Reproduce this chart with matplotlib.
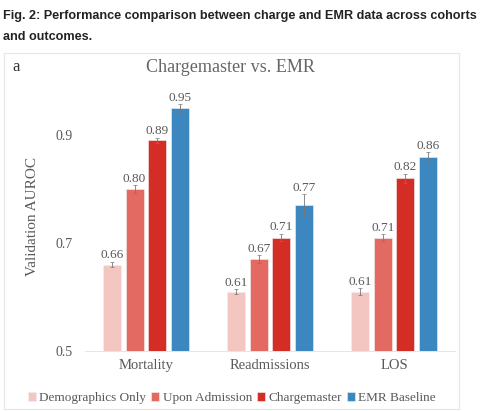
import matplotlib.pyplot as plt
from matplotlib.patches import Rectangle
import numpy as np

# data
outcomes = ['Mortality', 'Readmissions', 'LOS']
models = ['Demographics Only', 'Upon Admission', 'Chargemaster', 'EMR Baseline']
auroc = {
    'Demographics Only': [0.66, 0.61, 0.61],
    'Upon Admission': [0.80, 0.67, 0.71],
    'Chargemaster': [0.89, 0.71, 0.82],
    'EMR Baseline': [0.95, 0.77, 0.86],
}
err = {
    'Demographics Only': [0.005, 0.004, 0.006],
    'Upon Admission': [0.007, 0.007, 0.006],
    'Chargemaster': [0.005, 0.007, 0.008],
    'EMR Baseline': [0.007, 0.020, 0.008],
}
colors = ['#f4c6c2', '#e36a63', '#d42d25', '#3c87bf']

grey = '#595959'
serif = ['Liberation Serif', 'DejaVu Serif']

fig = plt.figure(figsize=(4.92, 4.11), dpi=100)

# caption
cap_font = ['Liberation Sans', 'DejaVu Sans']
fig.text(0.006, 1 - 16 / 411, 'Fig. 2: Performance comparison between charge and EMR data across cohorts',
         fontsize=9.1, fontweight='bold', family=cap_font,
         color='#222222', va='center', ha='left')
fig.text(0.006, 1 - 37 / 411, 'and outcomes.',
         fontsize=9.1, fontweight='bold', family=cap_font,
         color='#222222', va='center', ha='left')

# panel frame
fig.patches.append(Rectangle((4 / 492, 1 - 409 / 411), 455 / 492, 356 / 411,
                             transform=fig.transFigure, fill=False,
                             edgecolor='#e6e6e6', linewidth=0.8))

fig.text(12 / 492, 1 - 67 / 411, 'a', fontsize=12, family=serif, color='#333333',
         va='center', ha='left')
fig.text(230 / 492, 1 - 67 / 411, 'Chargemaster vs. EMR', fontsize=13.1, family=serif,
         color='#666666', va='center', ha='center')

ax = fig.add_axes([85 / 492, 1 - 351 / 411, 370 / 492, 270 / 411])

x = np.arange(len(outcomes))
width = 0.145
step = 0.182
for i, m in enumerate(models):
    xs = x + (i - 1.5) * step
    ax.bar(xs, np.array(auroc[m]) - 0.5, width, bottom=0.5, color=colors[i],
           edgecolor='#f0f0f0', linewidth=0.4, label=m, zorder=2)
    ax.errorbar(xs, auroc[m], yerr=err[m], fmt='none', ecolor='#777777',
                elinewidth=0.6, capsize=1.2, capthick=0.5, zorder=3)
    for xi, v, e in zip(xs, auroc[m], err[m]):
        ax.text(xi, v + e + 0.001, f'{v:.2f}', ha='center', va='bottom',
                fontsize=9.5, family=serif, color=grey, zorder=4)

ax.set_xlim(-0.49, 2.49)
ax.set_ylim(0.5, 1.0)
ax.set_yticks([0.5, 0.7, 0.9])
ax.set_yticklabels(['0.5', '0.7', '0.9'], family=serif, fontsize=10, color=grey)
ax.set_xticks(x)
ax.set_xticklabels(outcomes, family=serif, fontsize=10.5, color=grey)
ax.tick_params(axis='both', length=0)
ax.tick_params(axis='y', pad=9)
ax.tick_params(axis='x', pad=6)
ax.set_ylabel('Validation AUROC', family=serif, fontsize=11, color=grey, labelpad=12)
for s in ['top', 'right', 'left']:
    ax.spines[s].set_visible(False)
ax.spines['bottom'].set_color('#e0e0e0')
ax.spines['bottom'].set_linewidth(0.6)

fig.legend(loc='center', bbox_to_anchor=(232 / 492, 1 - 398 / 411), ncol=4,
           frameon=False, handlelength=0.6, handleheight=0.6, handletextpad=0.25,
           columnspacing=0.4, prop={'family': serif, 'size': 9.5}, labelcolor=grey,
           borderaxespad=0)

fig.savefig('out.png', dpi=100)
